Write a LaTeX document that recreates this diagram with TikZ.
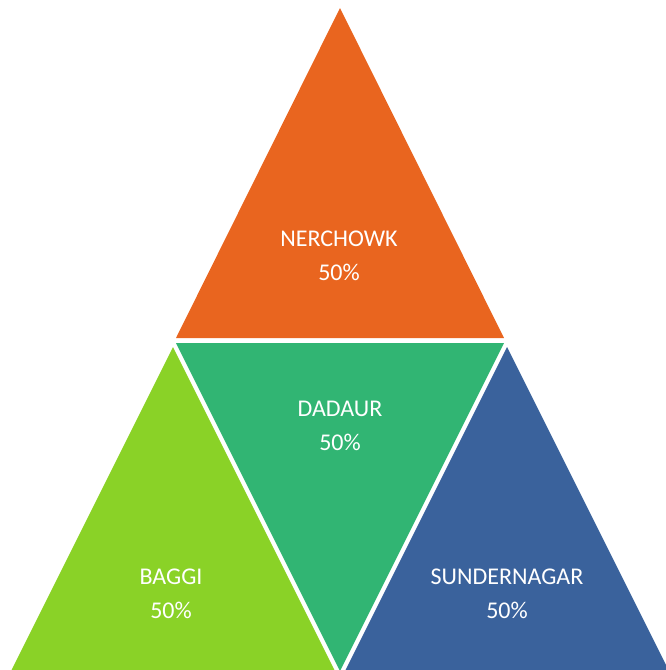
\documentclass[tikz,border=0pt]{standalone}
\usepackage{fontspec}
\setmainfont{Carlito}
\definecolor{nerOrange}{HTML}{E9651F}
\definecolor{dadGreen}{HTML}{31B573}
\definecolor{bagLime}{HTML}{8AD227}
\definecolor{sunBlue}{HTML}{3A629C}
\begin{document}
\begin{tikzpicture}[x=1pt,y=-1pt,
  tri/.style={draw=none},
  lbl/.style={text=white,align=center,inner sep=0pt,
    font=\fontsize{24}{34}\selectfont}]
\useasboundingbox (0,0) rectangle (666,670);
\clip (0,0) rectangle (666,670);
% four triangles of the pyramid
\fill[nerOrange] (340,8) -- (504,338) -- (176,338) -- cycle;
\fill[dadGreen] (176,343) -- (504,343) -- (340,671) -- cycle;
\fill[bagLime] (173,347) -- (337,675) -- (9,675) -- cycle;
\fill[sunBlue] (507,347) -- (671,675) -- (343,675) -- cycle;
% labels
\node[lbl] (ner) at (339,256) {NERCHOWK\\50\%};
\node[lbl] (dad) at (340,426) {DADAUR\\50\%};
\node[lbl] (bag) at (171,594) {BAGGI\\50\%};
\node[lbl] (sun) at (507,594) {SUNDERNAGAR\\50\%};
\end{tikzpicture}
\end{document}
